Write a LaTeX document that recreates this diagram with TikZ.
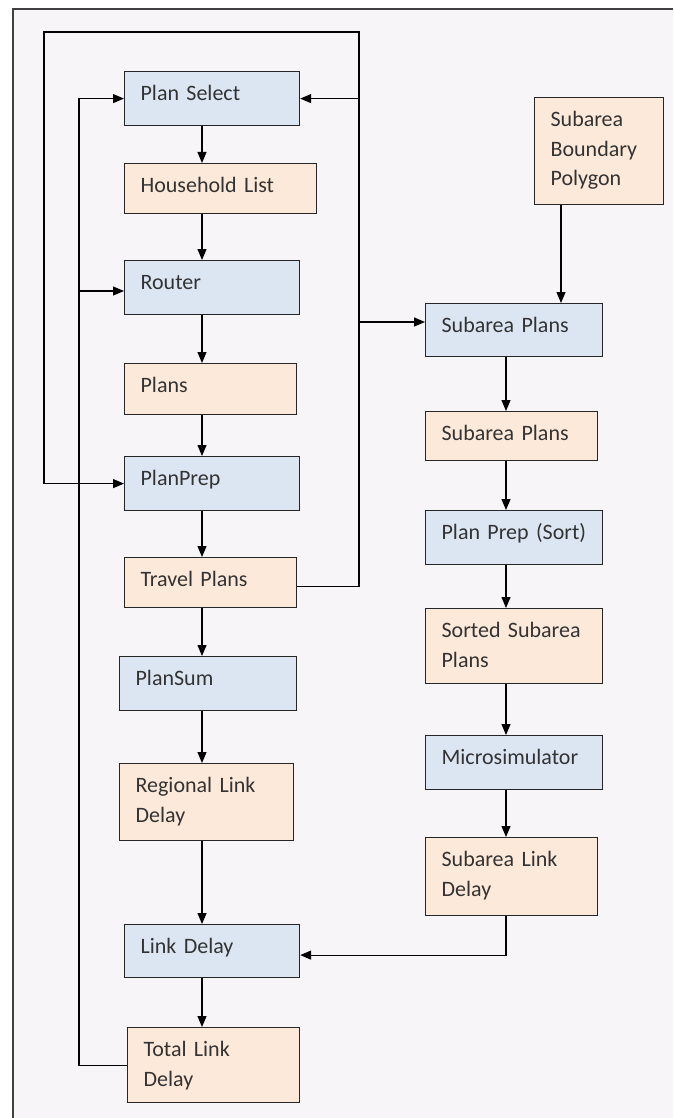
\documentclass[tikz,border=0pt]{standalone}
\usepackage{fontspec}
\setmainfont{Carlito}
\usepackage{tikz}
\usepackage{xcolor}
\usetikzlibrary{arrows.meta}
\definecolor{procblue}{HTML}{DCE6F2}
\definecolor{dataorange}{HTML}{FDE9D9}
\definecolor{panelbg}{HTML}{F8F5F8}
\definecolor{framegray}{HTML}{404040}

\begin{document}
\begin{tikzpicture}[
    x=1pt, y=-1pt,
    box/.style={rectangle, draw=black!85, line width=1.2pt, anchor=north west, align=left,
        inner xsep=16pt, inner ysep=0pt, text height=29pt, text=black!80,
        font=\fontsize{22}{29.5}\selectfont},
    proc/.style={box, fill=procblue},
    data/.style={box, fill=dataorange},
    arr/.style={-{Triangle[length=11pt,width=9pt]}, line width=1.2pt}
]
\useasboundingbox (0,0) rectangle (673,1118);
\fill[panelbg] (13,9) rectangle (673,1118);
\draw[framegray, line width=1.5pt] (13,1118) -- (13,9) -- (673,9);

% regional loop
\node[proc, text width=143pt, text depth=25pt] (plansel) at (124,71) {Plan Select};
\node[data, text width=160pt, text depth=21pt] (hhlist) at (124,163) {Household List};
\node[proc, text width=143pt, text depth=25pt] (router) at (124,260) {Router};
\node[data, text width=140pt, text depth=22pt] (plans) at (124,363) {Plans};
\node[proc, text width=143pt, text depth=25pt] (planprep) at (124,456) {PlanPrep};
\node[data, text width=140pt, text depth=21pt] (travel) at (124,557) {Travel Plans};
\node[proc, text width=145pt, text depth=25pt] (plansum) at (119,656) {PlanSum};
\node[data, text width=142pt, text depth=48pt] (regdelay) at (119,763) {Regional Link\\Delay};
\node[proc, text width=143pt, text depth=24pt] (linkdelay) at (124,924) {Link Delay};
\node[data, text width=140pt, text depth=46pt] (totdelay) at (127,1027) {Total Link\\Delay};

% subarea branch
\node[data, text width=97pt, text depth=78pt] (boundary) at (534,97) {Subarea\\Boundary\\Polygon};
\node[proc, text width=145pt, text depth=24pt] (subplans) at (425,303) {Subarea Plans};
\node[data, text width=140pt, text depth=20pt] (subplans2) at (425,411) {Subarea Plans};
\node[proc, text width=145pt, text depth=25pt] (sortprep) at (425,510) {Plan Prep (Sort)};
\node[data, text width=145pt, text depth=46pt] (sorted) at (425,608) {Sorted Subarea\\Plans};
\node[proc, text width=145pt, text depth=25pt] (microsim) at (425,735) {Microsimulator};
\node[data, text width=140pt, text depth=49pt] (subdelay) at (425,837) {Subarea Link\\Delay};

\coordinate (lx) at (202,0);
\coordinate (rx) at (506,0);
\coordinate (bx) at (561,0);
\coordinate (tr) at (359,32);
\coordinate (tl) at (44,32);
\coordinate (jn) at (359,322);
\coordinate (bl) at (79,291);

\draw[arr] (plansel.south -| lx) -- (hhlist.north -| lx);
\draw[arr] (hhlist.south -| lx) -- (router.north -| lx);
\draw[arr] (router.south -| lx) -- (plans.north -| lx);
\draw[arr] (plans.south -| lx) -- (planprep.north -| lx);
\draw[arr] (planprep.south -| lx) -- (travel.north -| lx);
\draw[arr] (travel.south -| lx) -- (plansum.north -| lx);
\draw[arr] (plansum.south -| lx) -- (regdelay.north -| lx);
\draw[arr] (regdelay.south -| lx) -- (linkdelay.north -| lx);
\draw[arr] (linkdelay.south -| lx) -- (totdelay.north -| lx);

\draw[arr] (boundary.south -| bx) -- (subplans.north -| bx);
\draw[arr] (subplans.south -| rx) -- (subplans2.north -| rx);
\draw[arr] (subplans2.south -| rx) -- (sortprep.north -| rx);
\draw[arr] (sortprep.south -| rx) -- (sorted.north -| rx);
\draw[arr] (sorted.south -| rx) -- (microsim.north -| rx);
\draw[arr] (microsim.south -| rx) -- (subdelay.north -| rx);
\draw[arr] (subdelay.south -| rx) |- ([yshift=-4pt]linkdelay.east);

% feedback of travel plans
\draw[arr] ([yshift=-4pt]travel.east) -| (tr) -- (tl) |- (planprep.west);
\draw[arr] (tr |- plansel.east) -- (plansel.east);
\draw[arr] (jn) -- (jn -| subplans.west);

% feedback of total delay
\draw[arr] (totdelay.west) -| (bl) |- (plansel.west);
\draw[arr] (bl) -- (bl -| router.west);
\end{tikzpicture}
\end{document}
